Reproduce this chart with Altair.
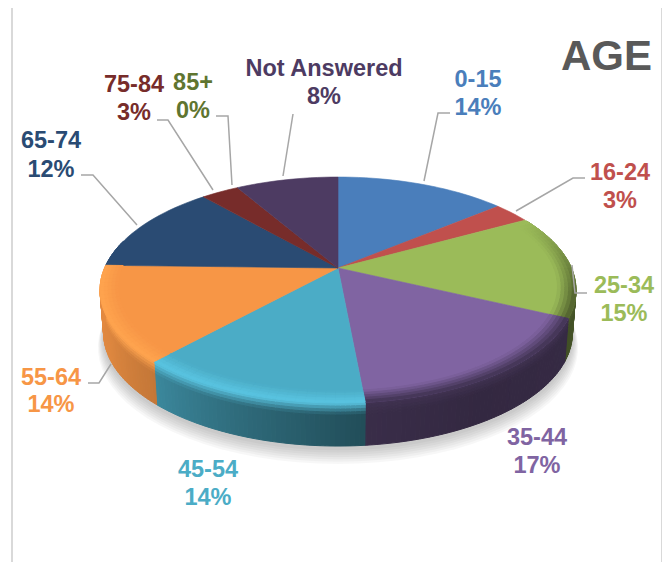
import math
import altair as alt

# ---- values ----
categories = ["0-15", "16-24", "25-34", "35-44", "45-54", "55-64", "65-74", "75-84", "85+", "Not Answered"]
percent_labels = ["14%", "3%", "15%", "17%", "14%", "14%", "12%", "3%", "0%", "8%"]
drawn_shares = [14, 3, 15, 16.5, 13.3, 13.6, 13.1, 3.1, 0, 8.4]

# ---- styles ----
top_colors = ["#4A7EBB", "#C0504D", "#9BBB59", "#8064A2", "#4BACC6", "#F79646", "#2A4B73", "#772C2A", "#5F7530", "#4D3B62"]
bevel_gain = [1, 1, 0.5, 0.5, 1.1, 1.06, 1, 1, 1, 1]
title_text = "AGE"
FONT = "Liberation Sans"
W, H = 654, 554
OX, OY = 8, 8  # page margin

# ---- layout of the tilted disc (page pixels) ----
CX, CY, A, B, K = 338, 268, 233.4, 108.7, 0.195
DEPTH = 43

label_layout = {  # centre x, first-line y, second-line y
    "0-15": (478, 79.5, 107.5), "16-24": (620, 172.5, 200.5), "25-34": (624, 285.5, 313.5),
    "35-44": (537, 437.5, 465.5), "45-54": (208, 469.5, 497.5), "55-64": (51, 377.5, 404.5),
    "65-74": (51, 140.5, 169.5), "75-84": (134, 84.5, 112.5), "85+": (193, 82.5, 110.5),
    "Not Answered": (324, 68.5, 96.5),
}
leaders = [
    [(81, 175), (93, 175), (137, 225)], [(157, 120), (168, 120), (213, 190)],
    [(216, 116), (228, 116), (232, 185)], [(293, 114), (283, 176)],
    [(450, 113), (438, 113), (424, 181)], [(585, 178), (573, 178), (516, 211)],
    [(587, 293), (575, 293), (572, 265)], [(88, 383), (99, 383), (111, 364)],
]
frame = [(12, 570), (12, 7), (662, 7), (662, 570)]


def project(theta, r=1.0, drop=0.0):
    """Clockwise angle from 12 o'clock on the disc to page pixels, with perspective."""
    u, v = r * math.sin(math.radians(theta)), -r * math.cos(math.radians(theta))
    w = 1 / (1 - K * v)
    shrink = 1 - 0.015 * (drop / DEPTH)
    return (CX + A * u * w * shrink - OX, CY + B * v * w + drop - OY)


def shade(hex_color, f):
    c = [int(hex_color[i:i + 2], 16) for i in (1, 3, 5)]
    if f > 1:
        c = [x * f + 8 * (f - 1) * 10 for x in c]
    else:
        c = [x * f for x in c]
    return "#%02x%02x%02x" % tuple(max(0, min(255, round(x))) for x in c)


def mix(c1, c2, t):
    a = [int(c1[i:i + 2], 16) for i in (1, 3, 5)]
    b = [int(c2[i:i + 2], 16) for i in (1, 3, 5)]
    return "#%02x%02x%02x" % tuple(round(x + (y - x) * t) for x, y in zip(a, b))


def feature(points, color, opacity=1.0):
    ring = [list(p) for p in points]
    ring.append(ring[0])
    return {"type": "Feature", "geometry": {"type": "Polygon", "coordinates": [ring]},
            "properties": {"color": color, "op": opacity}}


def wall_factor(theta):
    table = [(60, 0.5), (90, 0.5), (115, 0.42), (150, 0.4), (175, 0.45), (200, 0.62), (224, 0.8), (245, 0.9), (285, 0.95)]
    for (a0, f0), (a1, f1) in zip(table, table[1:]):
        if a0 <= theta <= a1:
            return f0 + (f1 - f0) * (theta - a0) / (a1 - a0)
    return 0.9


# slice angle ranges from the shares
total = sum(drawn_shares)
ranges, acc = [], 0.0
for s in drawn_shares:
    ranges.append((acc * 360 / total, (acc + s) * 360 / total))
    acc += s

shadow, walls, tops, bevels = [], [], [], []

# soft shadow under the front of the disc
for i in range(7):
    grow = 1 + 0.004 * (7 - i)
    pts = []
    for d in range(0, 361, 4):
        x, y = project(d, grow, DEPTH + 2 + (7 - i) * 1.6)
        pts.append((x, y))
    shadow.append(feature(pts, "#000000", 0.03))

# side wall, in narrow strips so it can shade around the rim; the upper part
# of each strip blends from the bevel colour into the wall colour
BLEND = [0, 3, 6, 9, 12, DEPTH]
for (a0, a1), col, gain in zip(ranges, top_colors, bevel_gain):
    lo, hi = max(a0, 62), min(a1, 285)
    th = lo
    edge = shade(col, gain)
    while th < hi:
        nx = min(th + 1, hi)
        base = shade(col, wall_factor((th + nx) / 2))
        for k, (d0, d1) in enumerate(zip(BLEND, BLEND[1:])):
            c = mix(edge, base, min(1, (k + 0.5) / (len(BLEND) - 2)))
            walls.append(feature([project(th, 1, d0), project(nx, 1, d0), project(nx, 1, d1), project(th, 1, d1)], c))
        th = nx

# top surface
for (a0, a1), col in zip(ranges, top_colors):
    if a1 <= a0:
        continue
    pts = [project(0, 0)]
    steps = max(2, int((a1 - a0) / 2))
    pts += [project(a0 + (a1 - a0) * j / steps) for j in range(steps + 1)]
    tops.append(feature(pts, col))

# bevel band along the front of the rim
RINGS = [0.925, 0.94, 0.955, 0.97, 0.985, 1.0]
for (a0, a1), col, gain in zip(ranges, top_colors, bevel_gain):
    if gain == 1:
        continue
    edge = shade(col, gain)
    lo, hi = max(a0, 62), min(a1, 285)
    th = lo
    while th < hi:
        nx = min(th + 2, hi)
        fade = min(1, max(0, (th - 62) / 40), max(0, (285 - th) / 12))
        for r0, r1 in zip(RINGS, RINGS[1:]):
            t = ((r0 + r1) / 2 - RINGS[0]) / (RINGS[-1] - RINGS[0])
            bevels.append(feature([project(th, r0), project(nx, r0), project(nx, r1), project(th, r1)],
                                  mix(col, edge, t * fade)))
        th = nx

PROJ = dict(type="identity", scale=1, translate=[0, 0])


def filled_layer(features, sw=1.0):
    return alt.Chart(alt.Data(values=features)).mark_geoshape(strokeWidth=sw).encode(
        fill=alt.Fill("properties.color:N", scale=None),
        stroke=alt.Stroke("properties.color:N", scale=None),
    ).project(**PROJ)


shadow_layer = alt.Chart(alt.Data(values=shadow)).mark_geoshape(strokeWidth=0, fill="#000000", opacity=0.03).project(**PROJ)


def line_layer(paths, color, width):
    feats = [{"type": "Feature", "properties": {},
              "geometry": {"type": "LineString", "coordinates": [[x - OX, y - OY] for x, y in p]}} for p in paths]
    return alt.Chart(alt.Data(values=feats)).mark_geoshape(
        filled=False, stroke=color, strokeWidth=width).project(**PROJ)


text_rows = []
for name, pct, col in zip(categories, percent_labels, top_colors):
    cx, y1, y2 = label_layout[name]
    text_rows.append({"lon": cx - OX, "lat": y1 - OY, "t": name, "c": col})
    text_rows.append({"lon": cx - OX, "lat": y2 - OY, "t": pct, "c": col})

labels = alt.Chart(alt.Data(values=text_rows)).mark_text(
    font=FONT, fontSize=23.5, fontWeight="bold", align="center", baseline="middle"
).encode(
    longitude="lon:Q", latitude="lat:Q", text="t:N", color=alt.Color("c:N", scale=None)
).project(**PROJ)

title = alt.Chart(alt.Data(values=[{"lon": 652 - OX, "lat": 57 - OY, "t": title_text}])).mark_text(
    font=FONT, fontSize=42, fontWeight="bold", align="right", baseline="middle", color="#595959"
).encode(longitude="lon:Q", latitude="lat:Q", text="t:N").project(**PROJ)

chart = alt.layer(
    line_layer([frame], "#D9D9D9", 2),
    shadow_layer,
    filled_layer(walls),
    filled_layer(tops, 0.6),
    filled_layer(bevels),
    line_layer(leaders, "#A6A6A6", 1.5),
    labels,
    title,
).properties(width=W, height=H, padding=0, autosize=alt.AutoSizeParams(type="none")).configure_view(stroke=None)

chart.save("out.html", embed_options={"renderer": "svg", "actions": False})
